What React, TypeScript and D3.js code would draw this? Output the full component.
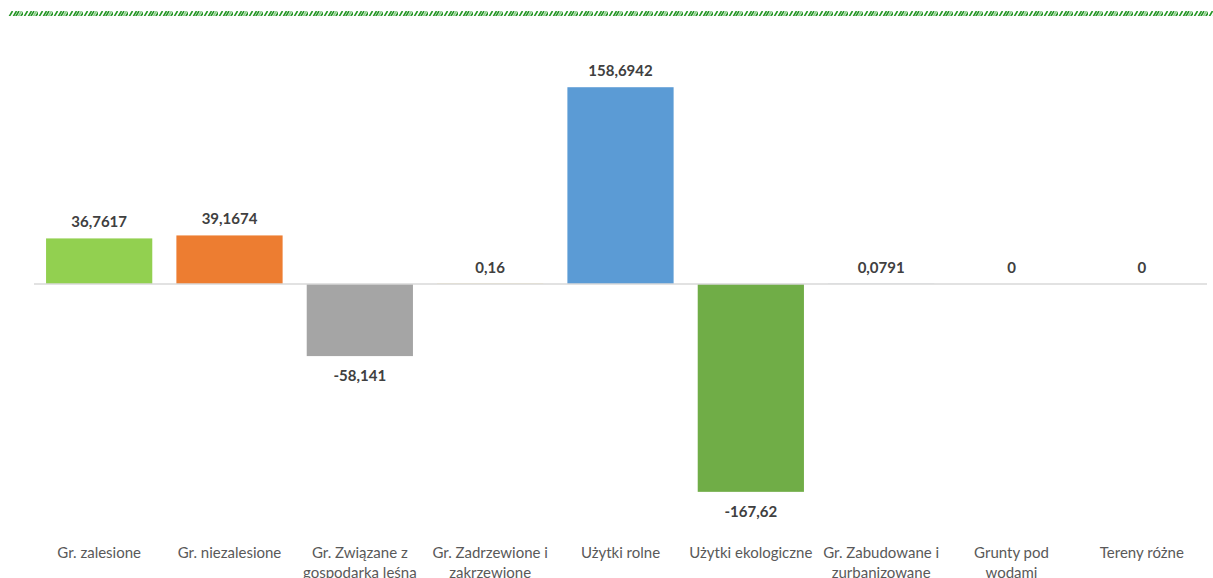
import React, { useEffect, useRef } from 'react';
import * as d3 from 'd3';

const categories = [
  'Gr. zalesione',
  'Gr. niezalesione',
  'Gr. Związane z\ngospodarka leśna',
  'Gr. Zadrzewione i\nzakrzewione',
  'Użytki rolne',
  'Użytki ekologiczne',
  'Gr. Zabudowane i\nzurbanizowane',
  'Grunty pod\nwodami',
  'Tereny różne',
];
const values = [36.7617, 39.1674, -58.141, 0.16, 158.6942, -167.62, 0.0791, 0, 0];
const valueLabels = ['36,7617', '39,1674', '-58,141', '0,16', '158,6942', '-167,62', '0,0791', '0', '0'];
const colors = ['#92d050', '#ed7d31', '#a5a5a5', '#ffc000', '#5b9bd5', '#70ad47', '#264478', '#9e480e', '#636363'];

function App() {
  const ref = useRef<SVGSVGElement>(null);
  const width = 1213;
  const height = 578;

  useEffect(() => {
    const svg = d3.select(ref.current);
    svg.selectAll('*').remove();

    // top decorative hatched border
    const defs = svg.append('defs');
    const pat = defs.append('pattern')
      .attr('id', 'hatch')
      .attr('patternUnits', 'userSpaceOnUse')
      .attr('x', 8)
      .attr('y', 11)
      .attr('width', 15)
      .attr('height', 6);
    [1, 5, 7.5, 10, 12.5].forEach((x0, i) => {
      pat.append('line')
        .attr('x1', x0).attr('y1', 6)
        .attr('x2', x0 + 3.5).attr('y2', 0)
        .attr('stroke', i === 3 ? '#86cc86' : '#259625')
        .attr('stroke-width', 1.6);
    });
    svg.append('rect')
      .attr('x', 8).attr('y', 11)
      .attr('width', width - 8).attr('height', 5)
      .attr('fill', 'url(#hatch)');

    const x = d3.scaleBand<number>()
      .domain(d3.range(categories.length))
      .range([34, 1207])
      .paddingInner(0.185)
      .paddingOuter(0.0925);

    const y = d3.scaleLinear()
      .domain([-200, 200])
      .range([532, 36]);

    const g = svg.append('g');

    g.selectAll('rect.bar')
      .data(values)
      .join('rect')
      .attr('class', 'bar')
      .attr('x', (_, i) => x(i)!)
      .attr('width', x.bandwidth())
      .attr('y', d => y(Math.max(0, d)))
      .attr('height', d => Math.abs(y(d) - y(0)))
      .attr('fill', (_, i) => colors[i]);

    // zero line
    g.append('line')
      .attr('x1', 34).attr('x2', 1207)
      .attr('y1', y(0)).attr('y2', y(0))
      .attr('stroke', '#d9d9d9')
      .attr('stroke-width', 1.5);

    // value labels
    g.selectAll('text.val')
      .data(values)
      .join('text')
      .attr('class', 'val')
      .attr('x', (_, i) => x(i)! + x.bandwidth() / 2)
      .attr('y', d => (d < 0 ? y(d) + 25 : y(d) - 11))
      .attr('text-anchor', 'middle')
      .attr('font-family', 'Lato, "Open Sans", sans-serif')
      .attr('font-weight', 'bold')
      .attr('font-size', '15px')
      .attr('fill', '#404040')
      .text((_, i) => valueLabels[i]);

    // category labels
    const cat = g.selectAll('text.cat')
      .data(categories)
      .join('text')
      .attr('class', 'cat')
      .attr('x', (_, i) => x(i)! + x.bandwidth() / 2)
      .attr('y', 558)
      .attr('text-anchor', 'middle')
      .attr('font-family', 'Lato, "Open Sans", sans-serif')
      .attr('font-size', '15px')
      .attr('fill', '#595959');

    cat.each(function (d, i) {
      const t = d3.select(this);
      d.split('\n').forEach((line, j) => {
        t.append('tspan')
          .attr('x', x(i)! + x.bandwidth() / 2)
          .attr('dy', j === 0 ? 0 : 20)
          .text(line);
      });
    });
  }, []);

  return (
    <div style={{ position: 'absolute', left: 0, top: 0 }}>
      <svg ref={ref} width={width} height={height} style={{ display: 'block', background: '#fff' }} />
    </div>
  );
}

export default App;
